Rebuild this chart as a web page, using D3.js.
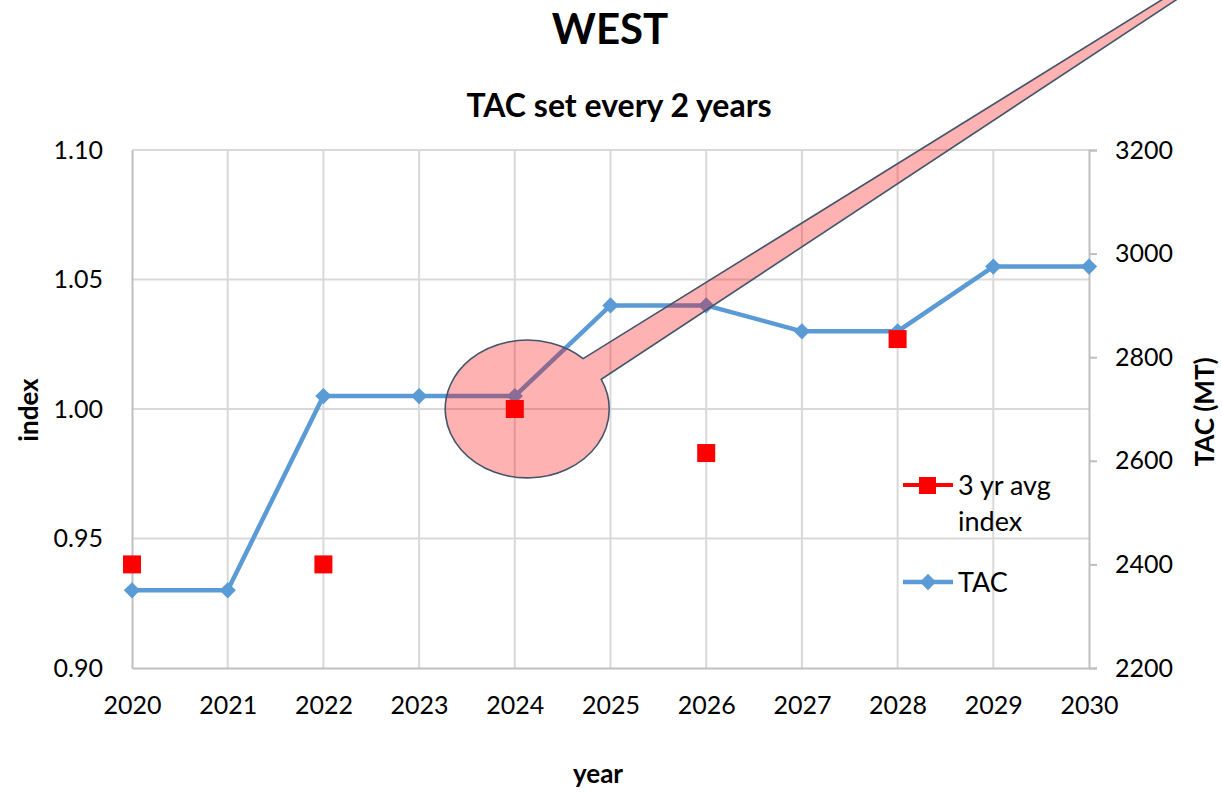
<!DOCTYPE html>
<html>
<head>
<meta charset="utf-8">
<script src="https://cdn.jsdelivr.net/npm/d3@7"></script>
<style>
  body { margin: 0; background: #fff; }
  text { font-family: Lato, "Open Sans", sans-serif; fill: #000; }
</style>
</head>
<body>
<script>
// data
var years = [2020, 2021, 2022, 2023, 2024, 2025, 2026, 2027, 2028, 2029, 2030];
var tac = [2350, 2350, 2725, 2725, 2725, 2900, 2900, 2850, 2850, 2975, 2975];
var avgYears = [2020, 2022, 2024, 2026, 2028];
var avgIndex = [0.94, 0.94, 1.00, 0.983, 1.027];
var indexTicks = [0.90, 0.95, 1.00, 1.05, 1.10];
var tacTicks = [2200, 2400, 2600, 2800, 3000, 3200];

// callout (ellipse + tail) in data units
var calloutCenter = [2024.13, 1.0];
var calloutRadius = [0.857, 0.0266];
var calloutAngles = [-47, -25.5];
var calloutTips = [[2031.24, 1.166], [2031.11, 1.166]];

var W = 1222, H = 793;
var svg = d3.select("body").append("svg")
    .attr("width", W)
    .attr("height", H);

var x = d3.scaleLinear().domain([2020, 2030]).range([132, 1089]);
var yL = d3.scaleLinear().domain([0.9, 1.1]).range([668, 150]);
var yR = d3.scaleLinear().domain([2200, 3200]).range([668, 150]);

// grid
svg.append("g").selectAll("line").data(indexTicks.slice(1))
  .enter().append("line")
    .attr("x1", x(2020)).attr("x2", x(2030))
    .attr("y1", function(d){return yL(d)}).attr("y2", function(d){return yL(d)})
    .attr("stroke", "#d9d9d9").attr("stroke-width", 2);
svg.append("g").selectAll("line").data(years.slice(1, -1))
  .enter().append("line")
    .attr("x1", function(d){return x(d)}).attr("x2", function(d){return x(d)})
    .attr("y1", yL(1.1)).attr("y2", yL(0.9))
    .attr("stroke", "#d9d9d9").attr("stroke-width", 2);

// axes
var axL = svg.append("g").attr("transform", "translate(" + x(2020) + ",0)")
  .call(d3.axisLeft(yL).tickValues(indexTicks).tickFormat(d3.format(".2f")).tickSize(0).tickPadding(29));
var axB = svg.append("g").attr("transform", "translate(0," + yL(0.9) + ")")
  .call(d3.axisBottom(x).tickValues(years).tickFormat(d3.format("d")).tickSize(0).tickPadding(28));
var axR = svg.append("g").attr("transform", "translate(" + x(2030) + ",0)")
  .call(d3.axisRight(yR).tickValues(tacTicks).tickFormat(d3.format("d")).tickSize(8).tickPadding(18));
[axL, axB, axR].forEach(function(g){
  g.select(".domain").attr("stroke", "#bfbfbf").attr("stroke-width", 2);
  g.selectAll(".tick line").attr("stroke", "#bfbfbf").attr("stroke-width", 2);
  g.selectAll("text").style("font-size", "25px").attr("fill", "#000");
});

// titles
svg.append("text").attr("x", 610).attr("y", 44).attr("text-anchor", "middle")
  .style("font-size", "42px").style("font-weight", "bold").text("WEST");
svg.append("text").attr("x", 619).attr("y", 117).attr("text-anchor", "middle")
  .style("font-size", "32px").style("font-weight", "bold").text("TAC set every 2 years");
svg.append("text").attr("transform", "translate(38,410) rotate(-90)").attr("text-anchor", "middle")
  .style("font-size", "26px").style("font-weight", "bold").text("index");
svg.append("text").attr("x", 598).attr("y", 783).attr("text-anchor", "middle")
  .style("font-size", "26px").style("font-weight", "bold").text("year");
svg.append("text").attr("transform", "translate(1214,412) rotate(-90)").attr("text-anchor", "middle")
  .style("font-size", "26px").style("font-weight", "bold").text("TAC (MT)");

// TAC line
var blue = "#5b9bd5", red = "#ff0000";
var line = d3.line().x(function(d, i){return x(years[i])}).y(function(d){return yR(d)});
svg.append("path").datum(tac).attr("d", line)
  .attr("fill", "none").attr("stroke", blue).attr("stroke-width", 4.5).attr("stroke-linejoin", "round");
var diamond = d3.symbol().type(d3.symbolDiamond2).size(170);
svg.append("g").selectAll("path").data(tac).enter().append("path")
  .attr("d", diamond)
  .attr("transform", function(d, i){return "translate(" + x(years[i]) + "," + yR(d) + ")"})
  .attr("fill", blue);

// 3 yr avg index squares
svg.append("g").selectAll("rect").data(avgIndex).enter().append("rect")
  .attr("x", function(d, i){return x(avgYears[i]) - 9})
  .attr("y", function(d){return yL(d) - 9})
  .attr("width", 18).attr("height", 18)
  .attr("fill", red);

// legend
var lg = svg.append("g");
lg.append("line").attr("x1", 903).attr("x2", 953).attr("y1", 485).attr("y2", 485)
  .attr("stroke", red).attr("stroke-width", 4);
lg.append("rect").attr("x", 919).attr("y", 477).attr("width", 17).attr("height", 17).attr("fill", red);
lg.append("text").attr("x", 958).attr("y", 495).style("font-size", "27px").text("3 yr avg");
lg.append("text").attr("x", 958).attr("y", 531).style("font-size", "27px").text("index");
lg.append("line").attr("x1", 903).attr("x2", 953).attr("y1", 582).attr("y2", 582)
  .attr("stroke", blue).attr("stroke-width", 4.5);
lg.append("path").attr("d", diamond).attr("transform", "translate(928,582)").attr("fill", blue);
lg.append("text").attr("x", 958).attr("y", 592).style("font-size", "27px").text("TAC");

// callout shape
var cx = x(calloutCenter[0]), cy = yL(calloutCenter[1]);
var rx = x(calloutCenter[0] + calloutRadius[0]) - cx;
var ry = cy - yL(calloutCenter[1] + calloutRadius[1]);
function onEllipse(deg) {
  var a = deg * Math.PI / 180;
  return [cx + rx * Math.cos(a), cy + ry * Math.sin(a)];
}
var pU = onEllipse(calloutAngles[0]), pL = onEllipse(calloutAngles[1]);
var tL = [x(calloutTips[0][0]), yL(calloutTips[0][1])];
var tU = [x(calloutTips[1][0]), yL(calloutTips[1][1])];
svg.append("path")
  .attr("d", "M" + pU + " A" + rx + " " + ry + " 0 1 0 " + pL + " L" + tL + " L" + tU + " Z")
  .attr("fill", "rgba(255,0,0,0.3)")
  .attr("stroke", "#44546a").attr("stroke-width", 1.6).attr("stroke-linejoin", "miter");
</script>
</body>
</html>
